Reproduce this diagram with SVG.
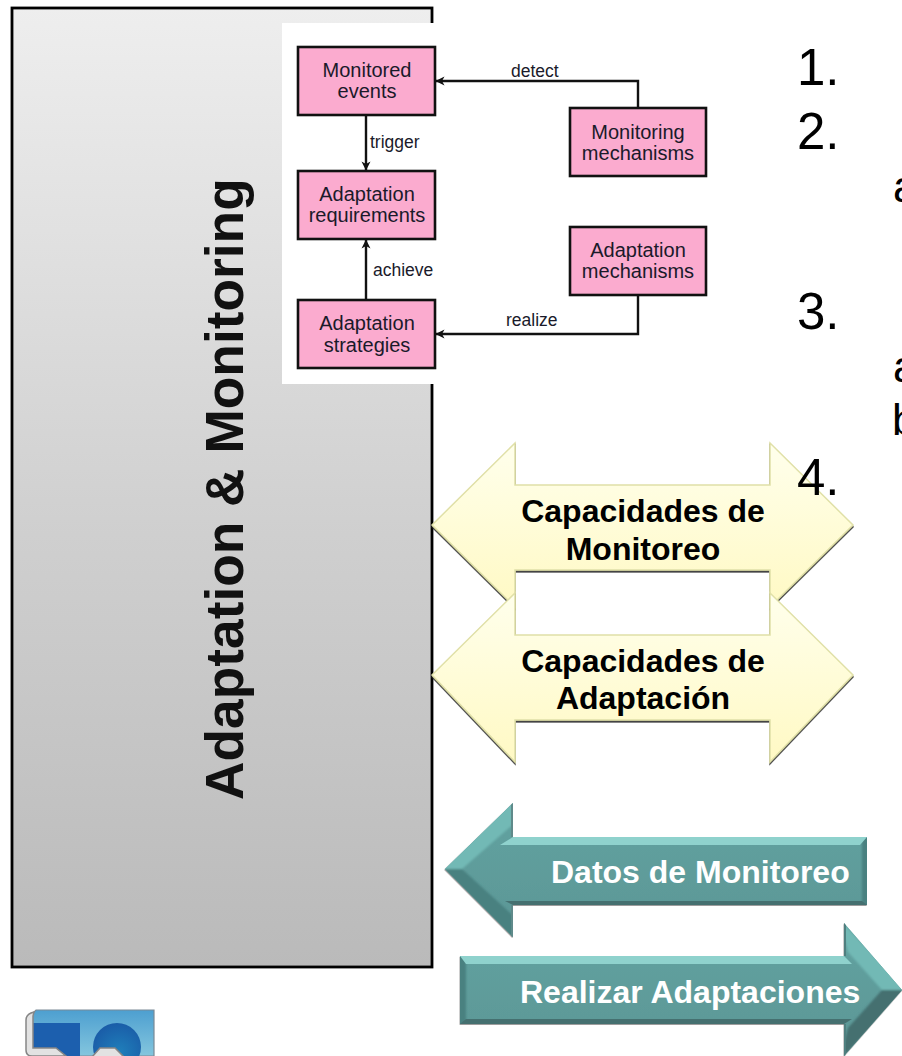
<svg xmlns="http://www.w3.org/2000/svg" width="902" height="1056" viewBox="0 0 902 1056">
<style>
text{font-family:"Liberation Sans",Arial,sans-serif}
.box{fill:#fbabcf;stroke:#111;stroke-width:2.6}
.bt{font-size:20px;text-anchor:middle;fill:#1a1a2a}
.lb{font-size:17.5px;fill:#1a1a2a}
.cn{fill:none;stroke:#111;stroke-width:2.4}
.yl{fill:url(#yg);stroke:#e0e0a8;stroke-width:1.5;filter:url(#ys)}
.yt{font-size:32px;font-weight:bold;text-anchor:middle;fill:#000}
.num{font-size:51px;fill:#000}
.let{font-size:44px;fill:#000}
.tl{font-size:32px;font-weight:bold;fill:#fff}
.fl{fill:#8fd2cd}.fh{fill:#72b9b5}.fd{fill:#456f70}.fe{fill:#4a8180}.fm{fill:url(#tg)}
.band{fill:#e2e2e2;stroke:#868686;stroke-width:1.5}
</style>
<defs>
<linearGradient id="pg" x1="0" y1="0" x2="0" y2="1"><stop offset="0" stop-color="#eeeeee"/><stop offset="0.55" stop-color="#cfcfcf"/><stop offset="1" stop-color="#bababa"/></linearGradient>
<linearGradient id="yg" x1="0" y1="0" x2="0" y2="1"><stop offset="0" stop-color="#ffffec"/><stop offset="1" stop-color="#fff9c4"/></linearGradient>
<linearGradient id="tg" x1="0" y1="0" x2="0" y2="1"><stop offset="0" stop-color="#62a3a1"/><stop offset="1" stop-color="#5b9695"/></linearGradient>
<linearGradient id="lg" x1="0" y1="0" x2="0" y2="1"><stop offset="0" stop-color="#4d9fd0"/><stop offset="1" stop-color="#84c6de"/></linearGradient>
<radialGradient id="lc" cx="0.55" cy="0.6" r="0.6"><stop offset="0" stop-color="#1f7fba"/><stop offset="1" stop-color="#1a5da8"/></radialGradient>
<filter id="ys" x="-5%" y="-5%" width="110%" height="110%"><feDropShadow dx="0" dy="1.8" stdDeviation="0.4" flood-color="#222" flood-opacity="0.9"/></filter>
<filter id="ts" x="-5%" y="-5%" width="110%" height="110%"><feDropShadow dx="-0.4" dy="0.8" stdDeviation="0.6" flood-color="#333" flood-opacity="0.6"/></filter>
<filter id="sb" x="-5%" y="-5%" width="110%" height="110%"><feGaussianBlur stdDeviation="1.2"/></filter>
<clipPath id="c1"><polygon points="445,869 513,803 513,837 867,837 867,905 513,905 513,937"/></clipPath>
<clipPath id="c2"><polygon points="460,956 844,956 844,923 902,990 844,1056 844,1024 460,1024"/></clipPath>
<marker id="ah" viewBox="0 0 10 10" refX="9" refY="5" markerWidth="10" markerHeight="10" markerUnits="userSpaceOnUse" orient="auto"><path d="M0.5 0.5L9.5 5L0.5 9.5L3 5Z" fill="#111"/></marker>
</defs>
<rect width="902" height="1056" fill="#fff"/>
<g id="panel">
<rect x="12" y="8" width="420" height="959" fill="url(#pg)" stroke="#000" stroke-width="2.8"/>
<text x="0" y="0" transform="translate(243,800) rotate(-90)" font-size="53.3" font-weight="bold" fill="#111">Adaptation &amp; Monitoring</text>
</g>
<rect id="inset" x="282" y="23" width="438" height="361" fill="#fff"/>
<g id="connectors">
<path class="cn" marker-end="url(#ah)" d="M638 108V81H436"/>
<path class="cn" marker-end="url(#ah)" d="M366 115V170"/>
<path class="cn" marker-end="url(#ah)" d="M366 300V240"/>
<path class="cn" marker-end="url(#ah)" d="M638 295V334H436"/>
<text class="lb" x="511" y="77">detect</text>
<text class="lb" x="370" y="148">trigger</text>
<text class="lb" x="373" y="276">achieve</text>
<text class="lb" x="506" y="326">realize</text>
</g>
<g id="monitored-events"><rect class="box" x="298" y="47" width="137" height="68"/><text class="bt" x="367" y="77">Monitored</text><text class="bt" x="367" y="98">events</text></g>
<g id="adaptation-requirements"><rect class="box" x="298" y="171" width="137" height="68"/><text class="bt" x="367" y="201">Adaptation</text><text class="bt" x="367" y="222">requirements</text></g>
<g id="adaptation-strategies"><rect class="box" x="298" y="300" width="137" height="68"/><text class="bt" x="367" y="330">Adaptation</text><text class="bt" x="367" y="352">strategies</text></g>
<g id="monitoring-mechanisms"><rect class="box" x="570" y="108" width="136" height="68"/><text class="bt" x="638" y="139">Monitoring</text><text class="bt" x="638" y="160">mechanisms</text></g>
<g id="adaptation-mechanisms"><rect class="box" x="570" y="227" width="136" height="68"/><text class="bt" x="638" y="257">Adaptation</text><text class="bt" x="638" y="278">mechanisms</text></g>
<g id="capacidades-monitoreo"><polygon class="yl" points="432,525 515,443 515,485 770,485 770,443 853,525 770,607 770,570 515,570 515,607"/><text class="yt" x="643" y="522">Capacidades de</text><text class="yt" x="643" y="560">Monitoreo</text></g>
<g id="capacidades-adaptacion"><polygon class="yl" points="432,675 515,593 515,635 770,635 770,593 853,675 770,762 770,720 515,720 515,762"/><text class="yt" x="643" y="672">Capacidades de</text><text class="yt" x="643" y="709">Adaptación</text></g>
<g id="list">
<text class="num" x="797" y="85">1.</text>
<text class="num" x="797" y="149">2.</text>
<text class="let" x="893" y="202">a</text>
<text class="num" x="797" y="329">3.</text>
<text class="let" x="893" y="382">a</text>
<text class="let" x="892" y="435">b</text>
<text class="num" x="797" y="495">4.</text>
</g>
<g id="datos-monitoreo">
<g filter="url(#ts)"><g clip-path="url(#c1)">
<rect x="440" y="800" width="430" height="140" class="fm"/>
<g filter="url(#sb)">
<polygon class="fh" points="440,869 513,798 518,820 462,869"/>
<polygon class="fe" points="440,869 513,942 518,920 462,869"/>
<polygon class="fe" points="862,835 870,835 870,908 862,908"/>
</g>
<polygon class="fl" points="513,837 867,837 860,845 500,845"/>
<polygon class="fd" points="505,901 862,901 867,905 513,905"/>
<rect x="511" y="803" width="2" height="34" fill="#5e8a8a"/>
<rect x="511" y="905" width="2" height="32" fill="#5e8a8a"/>
</g></g>
<text class="tl" x="551" y="883">Datos de Monitoreo</text>
</g>
<g id="realizar-adaptaciones">
<g filter="url(#ts)"><g clip-path="url(#c2)">
<rect x="455" y="920" width="450" height="140" class="fm"/>
<g filter="url(#sb)">
<polygon class="fh" points="840,920 906,990 882,990 848,952"/>
<polygon class="fd" points="840,1060 906,990 882,990 848,1028"/>
<polygon class="fe" points="458,954 466,954 466,1026 458,1026"/>
</g>
<polygon class="fl" points="460,956 844,956 852,964 466,964"/>
<polygon class="fd" points="466,1019 852,1019 844,1024 460,1024"/>
<rect x="844" y="923" width="2" height="33" fill="#4f7f7f"/>
<rect x="844" y="1024" width="2" height="32" fill="#4f7f7f"/>
</g></g>
<text class="tl" x="520" y="1003">Realizar Adaptaciones</text>
</g>
<g id="logo">
<path d="M36 1010H154V1056H32V1014Z" fill="url(#lg)" stroke="#7a8a96" stroke-width="1.2"/>
<rect x="33" y="1023" width="47" height="33" fill="#1c5fae"/>
<circle cx="117" cy="1047" r="24" fill="url(#lc)"/>
<path class="band" d="M34 1012Q26 1014 26 1020V1050Q26 1056 32 1056H66L56 1048H33V1016Z"/>
<path class="band" d="M92 1057L100 1048H115L124 1057Z"/>
</g>
</svg>
